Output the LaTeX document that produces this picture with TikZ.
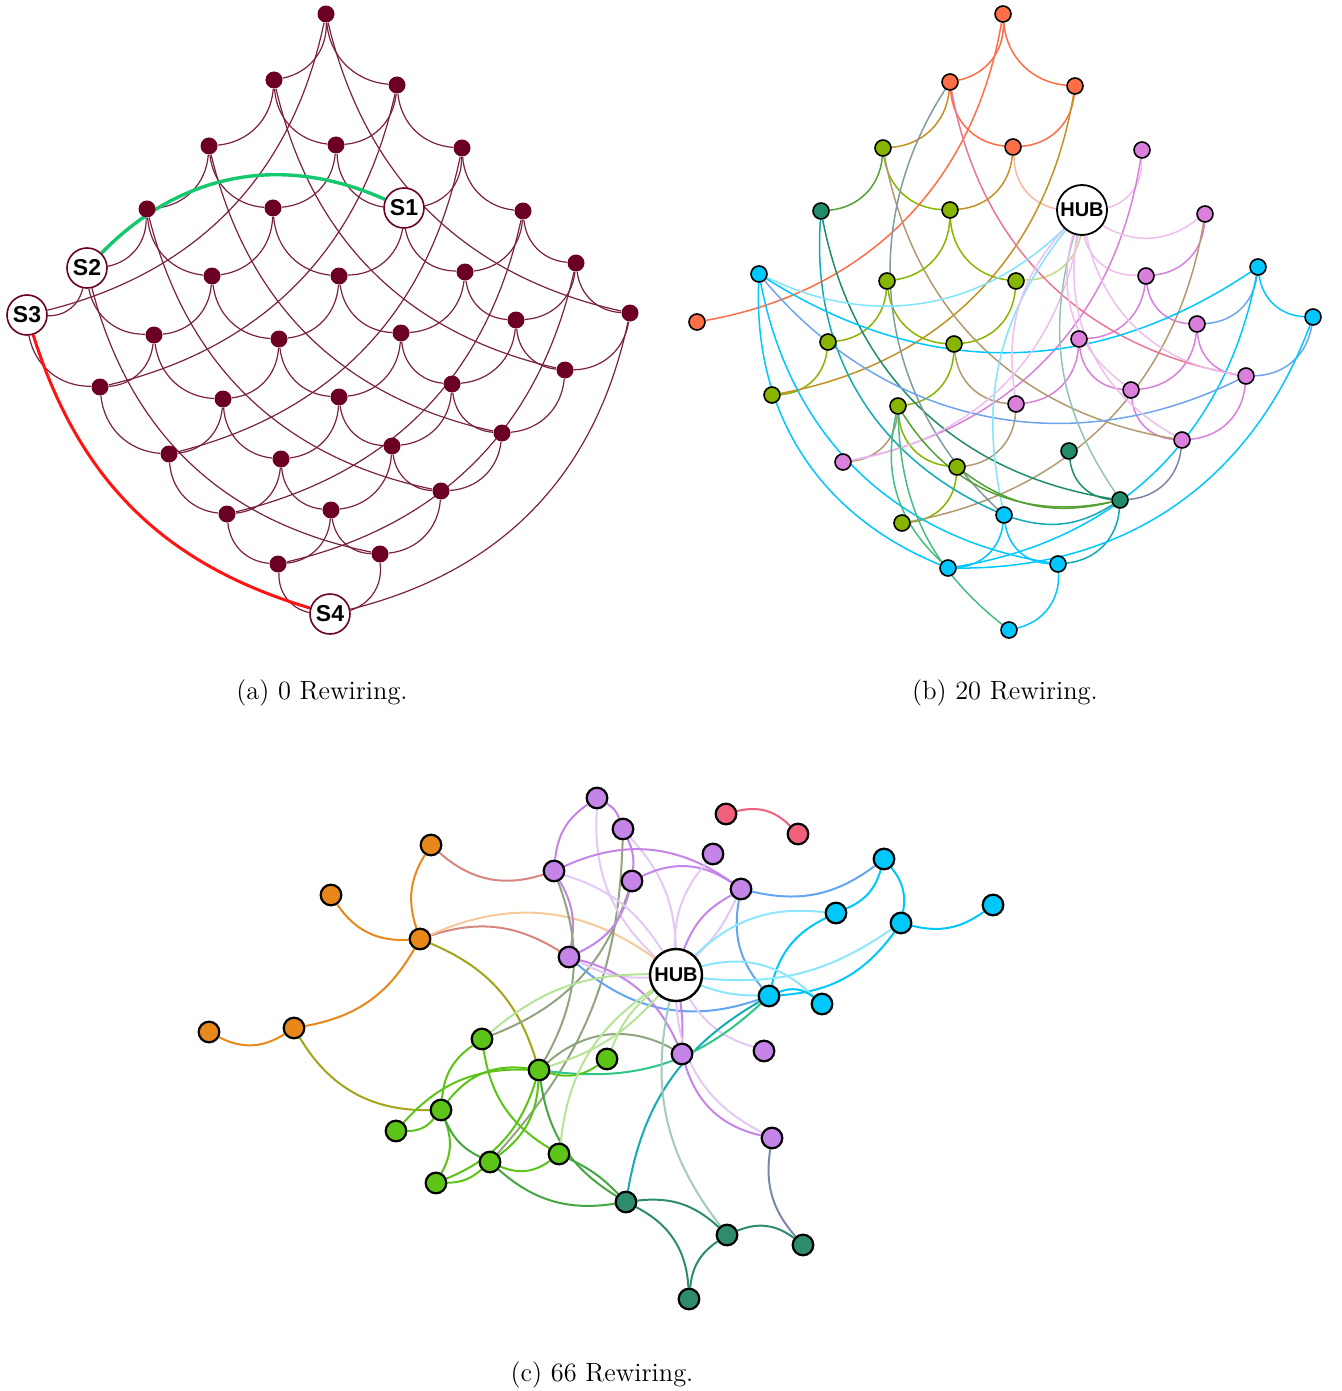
\documentclass[tikz,border=0pt]{standalone}
\usepackage{fontspec}
\setsansfont{Liberation Sans}
\pgfdeclarelayer{edges}
\pgfsetlayers{edges,main}
\definecolor{aM}{RGB}{107,0,35}
\definecolor{aE}{RGB}{122,32,64}
\definecolor{aRed}{RGB}{255,20,20}
\definecolor{aGreen}{RGB}{20,200,110}
\definecolor{bOr}{RGB}{255,110,70}
\definecolor{bOl}{RGB}{136,181,0}
\definecolor{bTe}{RGB}{32,140,105}
\definecolor{bCy}{RGB}{0,200,255}
\definecolor{bPk}{RGB}{218,127,220}
\definecolor{cPu}{RGB}{196,132,232}
\definecolor{cRd}{RGB}{240,96,122}
\definecolor{cOr}{RGB}{232,135,26}
\definecolor{cCy}{RGB}{0,200,250}
\definecolor{cGr}{RGB}{92,195,23}
\definecolor{cTe}{RGB}{46,139,110}
\newcommand\aN[3]{\node[adot] (a#1) at (#2,-#3) {};}
\newcommand\bN[4]{\expandafter\def\csname bcX#1\endcsname{#4}\node[bn,fill=#4] (b#1) at (#2,-#3) {};}
\newcommand\bE[3][35]{\edef\bcolA{\csname bcX#2\endcsname}\edef\bcolB{\csname bcX#3\endcsname}\draw[be,draw=\bcolA!50!\bcolB] (b#2) to[bend right=#1] (b#3);}
\tikzset{
  adot/.style={circle,fill=aM,inner sep=0pt,minimum size=8.5pt},
  snode/.style={circle,draw=aM,line width=0.8pt,fill=white,inner sep=0pt,minimum size=20pt,font=\sffamily\bfseries\fontsize{11.5}{12}\selectfont},
  ae/.style={draw=aE,line width=0.6pt},
  ared/.style={draw=aRed,line width=1.5pt},
  agreen/.style={draw=aGreen,line width=1.7pt},
  bn/.style={circle,draw=black,line width=0.8pt,inner sep=0pt,minimum size=8pt},
  bhub/.style={circle,draw=black,line width=0.9pt,fill=white,inner sep=0pt,minimum size=25pt,font=\sffamily\bfseries\fontsize{10}{10}\selectfont},
  be/.style={line width=0.75pt},
  cn/.style={circle,draw=black,line width=1.1pt,inner sep=0pt,minimum size=10.3pt},
  chub/.style={circle,draw=black,line width=1.2pt,fill=white,inner sep=0pt,minimum size=26pt,font=\sffamily\bfseries\fontsize{10}{10}\selectfont},
  ce/.style={line width=1pt},
  captxt/.style={font=\fontsize{13.2}{16}\selectfont,inner sep=0pt}
}
\begin{document}
\begin{tikzpicture}[x=0.5pt,y=0.5pt]
\useasboundingbox (0,0) rectangle (1342,-1391);
% ---------------- panel (a)
\aN{00}{326}{14}
\aN{10}{274}{80}\aN{01}{397}{85}
\aN{20}{209}{146}\aN{11}{336}{145}\aN{02}{462}{148}
\aN{30}{147}{209}\aN{21}{273}{208}\aN{03}{523}{211}
\node[snode] (a12) at (404,-208) {S1};
\node[snode] (a40) at (87,-268) {S2};
\aN{31}{212}{276}\aN{22}{339}{276}\aN{13}{465}{272}\aN{04}{576}{263}
\node[snode] (a50) at (27,-315) {S3};
\aN{41}{154}{335}\aN{32}{279}{339}\aN{23}{401}{333}\aN{14}{516}{320}\aN{05}{630}{313}
\aN{51}{100}{387}\aN{42}{223}{399}\aN{33}{339}{397}\aN{24}{452}{384}\aN{15}{565}{370}
\aN{52}{169}{454}\aN{43}{281}{459}\aN{34}{392}{446}\aN{25}{502}{433}
\aN{53}{227}{514}\aN{44}{331}{510}\aN{35}{441}{491}
\aN{54}{278}{564}\aN{45}{380}{554}
\node[snode] (a55) at (330,-614) {S4};
\begin{pgfonlayer}{edges}
\foreach \i/\k in {0/1,1/2,2/3,3/4,4/5}{
  \foreach \j in {0,...,5}{
    \draw[ae] (a\k\j) to[bend right=40] (a\i\j);
    \draw[ae] (a\j\i) to[bend right=40] (a\j\k);
  }
}
\foreach \j in {0,...,5}{\draw[ae] (a5\j) to[bend right=32] (a0\j);}
\foreach \j in {0,...,4}{\draw[ae] (a\j0) to[bend right=32] (a\j5);}
\draw[ared] (a50) to[bend right=28] (a55);
\draw[agreen] (a40) to[bend left=35] (a12);
\end{pgfonlayer}
\node[captxt] (capa) at (322,-693) {(a) 0 Rewiring.};
% ---------------- panel (b)
\bN{00}{1003}{14}{bOr}
\bN{10}{950}{82}{bOr}\bN{01}{1075}{86}{bOr}
\bN{20}{883}{148}{bOl}\bN{11}{1013}{147}{bOr}\bN{02}{1142}{150}{bPk}
\bN{30}{821}{211}{bTe}\bN{21}{950}{210}{bOl}\bN{03}{1205}{214}{bPk}
\expandafter\def\csname bcX12\endcsname{white}
\node[bhub] (b12) at (1082,-210) {HUB};
\bN{40}{759}{274}{bCy}\bN{31}{887}{281}{bOl}\bN{22}{1016}{281}{bOl}\bN{13}{1146}{276}{bPk}\bN{04}{1258}{267}{bCy}
\bN{50}{697}{322}{bOr}\bN{41}{828}{342}{bOl}\bN{32}{954}{344}{bOl}\bN{23}{1079}{339}{bPk}\bN{14}{1197}{324}{bPk}\bN{05}{1313}{317}{bCy}
\bN{51}{772}{395}{bOl}\bN{42}{898}{406}{bOl}\bN{33}{1016}{404}{bPk}\bN{24}{1131}{390}{bPk}\bN{15}{1246}{376}{bPk}
\bN{52}{843}{462}{bPk}\bN{43}{957}{467}{bOl}\bN{34}{1069}{451}{bTe}\bN{25}{1182}{440}{bPk}
\bN{53}{902}{523}{bOl}\bN{44}{1004}{515}{bCy}\bN{35}{1120}{500}{bTe}
\bN{54}{948}{568}{bCy}\bN{45}{1058}{564}{bCy}
\bN{55}{1009}{630}{bCy}
\begin{pgfonlayer}{edges}
% lattice, down-left
\bE[40]{10}{00}\bE[40]{20}{10}\bE[40]{30}{20}
\bE[40]{11}{01}\bE[40]{21}{11}\bE[40]{31}{21}\bE[40]{41}{31}\bE[40]{51}{41}
\bE[40]{12}{02}\bE[40]{22}{12}\bE[40]{32}{22}\bE[40]{42}{32}\bE[40]{52}{42}
\bE[40]{13}{03}\bE[40]{23}{13}\bE[40]{33}{23}\bE[40]{43}{33}\bE[40]{53}{43}
\bE[40]{14}{04}\bE[40]{24}{14}\bE[40]{54}{44}
\bE[40]{15}{05}\bE[40]{25}{15}\bE[40]{35}{25}\bE[40]{45}{35}\bE[40]{55}{45}
% lattice, down-right
\bE[40]{00}{01}\bE[40]{04}{05}
\bE[40]{10}{11}\bE[40]{11}{12}\bE[40]{12}{13}\bE[40]{13}{14}\bE[40]{14}{15}
\bE[40]{20}{21}\bE[40]{21}{22}\bE[40]{23}{24}\bE[40]{24}{25}
\bE[40]{31}{32}\bE[40]{32}{33}\bE[40]{34}{35}
\bE[40]{42}{43}\bE[40]{44}{45}
% wraps
\bE{50}{00}\bE{51}{01}\bE{52}{02}\bE{53}{03}\bE{54}{04}
\bE{10}{15}\bE{20}{25}\bE{30}{35}\bE{40}{45}
% rewired
\bE[40]{10}{44}\bE{30}{44}\bE[33]{40}{04}\bE[38]{40}{15}\bE{40}{54}\bE{40}{12}
\bE{54}{05}\bE{12}{03}\bE[25]{12}{44}\bE{52}{12}\bE[25]{12}{33}\bE[25]{12}{35}
\bE{12}{25}\bE{12}{24}\bE{12}{15}
\bE[25]{42}{55}\bE[30]{42}{54}\bE{42}{35}\bE[25]{43}{35}\bE[25]{44}{35}
\end{pgfonlayer}
\node[captxt] (capb) at (1005,-693) {(b) 20 Rewiring.};
% ---------------- panel (c)
\node[cn,fill=cPu] (p1) at (597,-798) {};
\node[cn,fill=cPu] (p2) at (623,-829) {};
\node[cn,fill=cPu] (p3) at (713,-854) {};
\node[cn,fill=cPu] (p4) at (554,-871) {};
\node[cn,fill=cPu] (p5) at (632,-881) {};
\node[cn,fill=cPu] (p6) at (741,-889) {};
\node[cn,fill=cPu] (p7) at (569,-957) {};
\node[cn,fill=cPu] (p8) at (682,-1054) {};
\node[cn,fill=cPu] (p9) at (764,-1051) {};
\node[cn,fill=cPu] (p10) at (772,-1138) {};
\node[cn,fill=cRd] (r1) at (726,-814) {};
\node[cn,fill=cRd] (r2) at (798,-834) {};
\node[cn,fill=cOr] (o1) at (431,-845) {};
\node[cn,fill=cOr] (o2) at (331,-895) {};
\node[cn,fill=cOr] (o3) at (420,-939) {};
\node[cn,fill=cOr] (o4) at (294,-1028) {};
\node[cn,fill=cOr] (o5) at (209,-1032) {};
\node[cn,fill=cCy] (c1) at (884,-859) {};
\node[cn,fill=cCy] (c2) at (836,-913) {};
\node[cn,fill=cCy] (c3) at (901,-923) {};
\node[cn,fill=cCy] (c4) at (993,-905) {};
\node[cn,fill=cCy] (c5) at (769,-996) {};
\node[cn,fill=cCy] (c6) at (822,-1004) {};
\node[cn,fill=cGr] (g1) at (482,-1039) {};
\node[cn,fill=cGr] (g2) at (607,-1059) {};
\node[cn,fill=cGr] (g3) at (539,-1070) {};
\node[cn,fill=cGr] (g4) at (441,-1110) {};
\node[cn,fill=cGr] (g5) at (396,-1131) {};
\node[cn,fill=cGr] (g6) at (490,-1162) {};
\node[cn,fill=cGr] (g7) at (559,-1154) {};
\node[cn,fill=cGr] (g8) at (436,-1183) {};
\node[cn,fill=cTe] (t1) at (626,-1202) {};
\node[cn,fill=cTe] (t2) at (727,-1235) {};
\node[cn,fill=cTe] (t3) at (803,-1245) {};
\node[cn,fill=cTe] (t4) at (689,-1299) {};
\node[chub] (cH) at (676,-975) {HUB};
\begin{pgfonlayer}{edges}
\draw[ce,draw=cOr!50!cPu] (o1) to[bend right=30] (p4);
\draw[ce,draw=cOr] (o1) to[bend right=25] (o3);
\draw[ce,draw=cOr] (o2) to[bend right=30] (o3);
\draw[ce,draw=cOr] (o3) to[bend left=25] (o4);
\draw[ce,draw=cOr] (o4) to[bend left=30] (o5);
\draw[ce,draw=cOr!50!cPu] (o3) to[bend left=25] (p7);
\draw[ce,draw=cOr!45] (o3) to[bend left=30] (cH);
\draw[ce,draw=cOr!50!cGr] (o3) to[bend left=25] (g3);
\draw[ce,draw=cOr!50!cGr] (o4) to[bend right=30] (g4);
\draw[ce,draw=cPu] (p4) to[bend left=20] (p7);
\draw[ce,draw=cPu!50!cGr] (p4) to[bend left=25] (g3);
\draw[ce,draw=cPu!50!cGr] (p5) to[bend left=25] (g1);
\draw[ce,draw=cPu!50!cGr] (p2) to[bend left=20] (g6);
\draw[ce,draw=cPu] (p1) to[bend left=20] (p2);
\draw[ce,draw=cPu] (p1) to[bend right=25] (p4);
\draw[ce,draw=cPu!45] (p1) to[bend right=25] (cH);
\draw[ce,draw=cPu] (p2) to[bend left=15] (p5);
\draw[ce,draw=cPu] (p5) to[bend left=25] (p7);
\draw[ce,draw=cPu!45] (p2) to[bend left=20] (cH);
\draw[ce,draw=cPu] (p4) to[bend left=30] (p6);
\draw[ce,draw=cPu] (p5) to[bend left=30] (p6);
\draw[ce,draw=cPu!45] (p4) to[bend left=20] (cH);
\draw[ce,draw=cPu] (p6) to[bend right=20] (cH);
\draw[ce,draw=cPu!45] (p6) to[bend left=10] (cH);
\draw[ce,draw=cPu!50!cCy] (p6) to[bend right=25] (c1);
\draw[ce,draw=cPu!50!cCy] (p6) to[bend right=25] (c5);
\draw[ce,draw=cPu!45] (p7) to[bend right=15] (cH);
\draw[ce,draw=cPu!50!cCy] (p7) to[bend right=30] (c5);
\draw[ce,draw=cPu] (p7) to[bend left=25] (p8);
\draw[ce,draw=cCy!45] (cH) to[bend left=25] (c2);
\draw[ce,draw=cCy] (c2) to[bend right=25] (c1);
\draw[ce,draw=cCy] (c2) to[bend right=25] (c5);
\draw[ce,draw=cCy] (c1) to[bend left=25] (c3);
\draw[ce,draw=cCy] (c3) to[bend right=25] (c4);
\draw[ce,draw=cCy] (c3) to[bend left=25] (c5);
\draw[ce,draw=cCy!45] (cH) to[bend right=20] (c3);
\draw[ce,draw=cCy!45] (cH) to[bend left=30] (c6);
\draw[ce,draw=cCy] (c5) to[bend left=30] (c6);
\draw[ce,draw=cCy!45] (cH) to[bend right=10] (c5);
\draw[ce,draw=cRd] (r1) to[bend left=30] (r2);
\draw[ce,draw=cPu] (cH) to[bend left=5] (p8);
\draw[ce,draw=cPu!45] (cH) to[bend right=20] (p9);
\draw[ce,draw=cCy!50!cTe] (c5) to[bend right=25] (t1);
\draw[ce,draw=cGr!50!cCy] (g3) to[bend right=25] (c5);
\draw[ce,draw=cPu!50!cGr] (p8) to[bend right=35] (g3);
\draw[ce,draw=cGr] (g2) to[bend left=25] (g3);
\draw[ce,draw=cGr!45] (cH) to[bend right=15] (g2);
\draw[ce,draw=cTe!45] (cH) to[bend right=25] (t2);
\draw[ce,draw=cPu!45] (cH) to[bend right=30] (p10);
\draw[ce,draw=cPu] (p8) to[bend right=30] (p10);
\draw[ce,draw=cPu!50!cTe] (p10) to[bend right=25] (t3);
\draw[ce,draw=cTe] (t1) to[bend left=25] (t2);
\draw[ce,draw=cTe] (t1) to[bend left=30] (t4);
\draw[ce,draw=cTe] (t2) to[bend right=25] (t4);
\draw[ce,draw=cTe] (t2) to[bend left=30] (t3);
\draw[ce,draw=cGr] (g1) to[bend right=25] (g4);
\draw[ce,draw=cGr] (g1) to[bend right=25] (g7);
\draw[ce,draw=cGr] (g3) to[bend right=30] (g4);
\draw[ce,draw=cGr] (g3) to[bend right=25] (g5);
\draw[ce,draw=cGr] (g3) to[bend left=25] (g6);
\draw[ce,draw=cGr!50!cTe] (g3) to[bend right=25] (t1);
\draw[ce,draw=cGr] (g5) to[bend right=25] (g4);
\draw[ce,draw=cGr] (g4) to[bend left=25] (g8);
\draw[ce,draw=cGr!50!cTe] (g4) to[bend right=20] (g6);
\draw[ce,draw=cGr!50!cTe] (g6) to[bend right=25] (t1);
\draw[ce,draw=cGr] (g8) to[bend right=20] (g6);
\draw[ce,draw=cGr] (g8) to[bend right=25] (g3);
\draw[ce,draw=cGr] (g6) to[bend right=30] (g7);
\draw[ce,draw=cGr!50!cTe] (g7) to[bend left=10] (t1);
\draw[ce,draw=cGr!45] (g7) to[bend left=25] (cH);
\draw[ce,draw=cGr!45] (cH) to[bend right=20] (g1);
\draw[ce,draw=cGr!45] (g3) to[bend right=15] (cH);
\draw[ce,draw=cPu!45] (cH) to[bend left=20] (p3);
\end{pgfonlayer}
\node[captxt] (capc) at (602,-1375) {(c) 66 Rewiring.};
\end{tikzpicture}
\end{document}
